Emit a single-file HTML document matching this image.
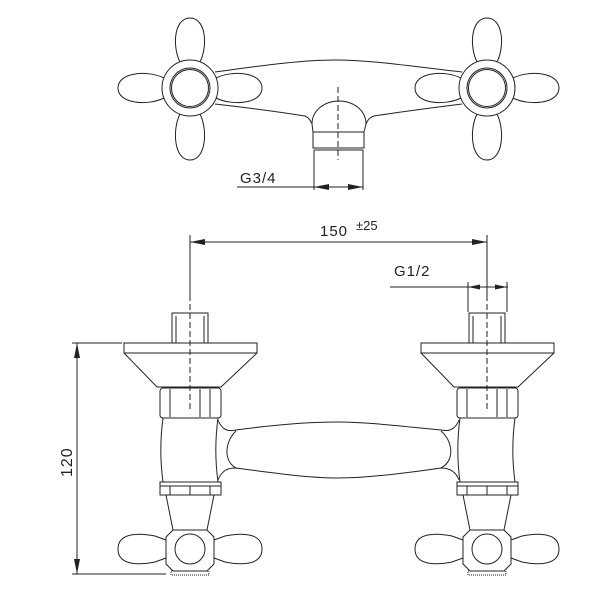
<!DOCTYPE html>
<html><head><style>html,body{margin:0;padding:0;background:#fff}svg{display:block}</style></head><body>
<svg width="601" height="601" viewBox="0 0 601 601" xmlns="http://www.w3.org/2000/svg" fill="none" stroke="#222" stroke-width="1">
<defs>
<g id="knobTop">
  <path d="M-10,-26 C-18,-42 -16,-70 0,-70 C16,-70 18,-42 10,-26"/>
  <path d="M-10,26 C-18,42 -16,72 0,72 C16,72 18,42 10,26"/>
  <path d="M-26,-10 C-42,-18 -72,-16 -72,0 C-72,16 -42,18 -26,10"/>
  <path d="M26,-10 C42,-18 72,-16 72,0 C72,16 42,18 26,10"/>
  <circle r="28" fill="#fff"/>
  <circle r="20"/><circle r="18.5"/>
</g>
<g id="unit">
  <rect x="-18" y="313" width="36" height="30"/>
  <line x1="-14" y1="316" x2="-14" y2="343"/><line x1="14" y1="316" x2="14" y2="343"/>
  <rect x="-66" y="343" width="133" height="10"/>
  <path d="M-66,353 L-33,387 L31,387 L67,353"/>
  <rect x="-30" y="388" width="61" height="30" rx="3"/>
  <line x1="-20" y1="389" x2="-20" y2="417"/><line x1="10" y1="389" x2="10" y2="417"/><line x1="20" y1="389" x2="20" y2="417"/>
  <path d="M-27,418 C-30,440 -30,460 -27,482 M28,418 C25,440 25,460 28,482"/>
  <rect x="-30" y="482" width="61" height="13"/>
  <line x1="-30" y1="486" x2="31" y2="486"/>
  <line x1="-20" y1="486" x2="-20" y2="495"/><line x1="0" y1="486" x2="0" y2="495"/><line x1="20" y1="486" x2="20" y2="495"/>
  <path d="M-24,495 L-17,530 M24,495 L17,530"/>
  <path d="M-17,530 L17,530 L24,537 L24,564 L17,571 L-17,571 L-24,564 L-24,537 Z"/>
  <circle cx="0" cy="549" r="15"/>
  <path d="M-24,540 L-35,536 C-50,533 -72,532 -72,549 C-72,566 -50,565 -35,562 L-24,558"/>
  <path d="M24,540 L35,536 C50,533 72,532 72,549 C72,566 50,565 35,562 L24,558"/>
  <rect x="-19" y="571" width="38" height="4" stroke-dasharray="1 1"/>
  <line x1="0" y1="295" x2="0" y2="412" stroke-dasharray="6 3"/>
</g>
</defs>
<!-- top view -->
<path d="M215,72 C260,66 300,60 335,60 C370,60 410,66 462,72"/>
<path d="M215,104 C250,108 280,112 305,116 C310,118 311,122 312,124"/>
<path d="M462,104 C430,108 400,112 374,116 C368,118 367,122 366,124"/>
<path d="M312,124 C312,110 325,101 339,101 C353,101 366,110 366,124 L364,132 L364,148 L313,148 L313,132 Z"/>
<line x1="313" y1="132" x2="364" y2="132"/>
<path d="M314,150 L363,150 M314,150 L314,190 M363,150 L363,190"/>
<line x1="338" y1="87" x2="338" y2="160" stroke-dasharray="6 3"/>
<use href="#knobTop" x="190" y="88"/>
<use href="#knobTop" x="487" y="88"/>
<line x1="237" y1="187" x2="363" y2="187"/>
<path d="M314,187 L329,184 L329,190Z M363,187 L348,184 L348,190Z" fill="#222" stroke="none"/>
<text x="240" y="183" font-family="Liberation Sans, sans-serif" font-size="15" fill="#222" stroke="none" letter-spacing="1">G3/4</text>
<!-- front view body -->
<path d="M218,420 C222,430 228,432 236,430 C280,424 310,422 338,422 C366,422 400,426 441,430 C450,432 456,428 459,420"/>
<path d="M218,480 C222,470 228,468 236,468 C280,474 310,478 338,478 C366,478 400,474 441,468 C450,468 456,472 459,480"/>
<path d="M236,431 C226,440 222,460 236,468"/>
<path d="M441,431 C452,440 456,460 441,468"/>
<use href="#unit" x="190" y="0"/>
<use href="#unit" x="487" y="0"/>
<!-- dims -->
<line x1="190" y1="235" x2="190" y2="296"/>
<line x1="487" y1="235" x2="487" y2="296"/>
<line x1="190" y1="242" x2="487" y2="242"/>
<path d="M190,242 L205,239 L205,245Z M487,242 L472,239 L472,245Z" fill="#222" stroke="none"/>
<text x="320" y="236" font-family="Liberation Sans, sans-serif" font-size="15" fill="#222" stroke="none" letter-spacing="1">150</text>
<text x="356" y="230" font-family="Liberation Sans, sans-serif" font-size="13" fill="#222" stroke="none">±25</text>
<line x1="468" y1="282" x2="468" y2="312"/>
<line x1="507" y1="282" x2="507" y2="312"/>
<line x1="390" y1="287" x2="508" y2="287"/>
<path d="M468,287 L480,284.5 L480,289.5Z M507,287 L495,284.5 L495,289.5Z" fill="#222" stroke="none"/>
<text x="394" y="276" font-family="Liberation Sans, sans-serif" font-size="15" fill="#222" stroke="none" letter-spacing="1">G1/2</text>
<line x1="72" y1="343" x2="122" y2="343"/>
<line x1="72" y1="574" x2="166" y2="574"/>
<line x1="77" y1="343" x2="77" y2="574"/>
<path d="M77,343 L74,358 L80,358Z M77,574 L74,559 L80,559Z" fill="#222" stroke="none"/>
<text transform="translate(72,477) rotate(-90)" font-family="Liberation Sans, sans-serif" font-size="16" fill="#222" stroke="none" letter-spacing="1">120</text>
</svg>
</body></html>
